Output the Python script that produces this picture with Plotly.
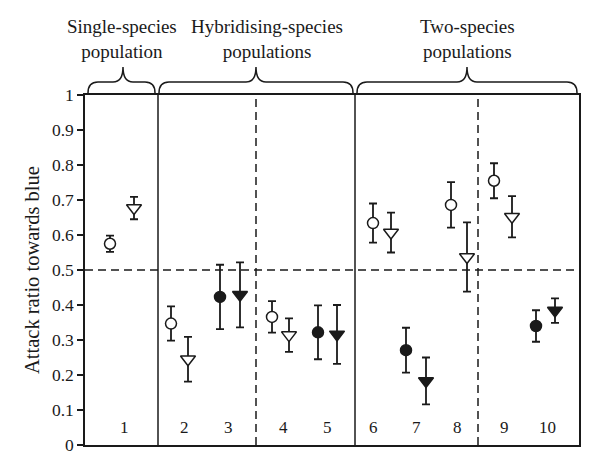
import plotly.graph_objects as go

# ---- data ----
groups = ["1", "2", "3", "4", "5", "6", "7", "8", "9", "10"]
group_x = [39, 99, 143, 198, 242, 288, 331, 372, 419, 462]
circle_x = [25, 86, 135, 187, 233, 288, 321, 366, 409, 451]
triangle_x = [49, 103, 155, 204, 252, 306, 341, 382, 427, 470]
circle_y = [0.575, 0.347, 0.423, 0.366, 0.322, 0.634, 0.271, 0.686, 0.755, 0.340]
circle_err = [0.023, 0.049, 0.092, 0.045, 0.077, 0.056, 0.064, 0.065, 0.050, 0.045]
triangle_y = [0.677, 0.245, 0.429, 0.314, 0.316, 0.607, 0.183, 0.537, 0.652, 0.384]
triangle_err = [0.032, 0.064, 0.093, 0.048, 0.084, 0.057, 0.067, 0.099, 0.059, 0.035]
filled = [False, False, True, False, True, False, True, False, False, True]
solid_separators = [73, 270]
dashed_separators = [171, 393]
headers = ["Single-species<br>population", "Hybridising-species<br>populations",
           "Two-species<br>populations"]
header_x = [37, 182, 382]
brace_spans = [(3, 70, 38), (74, 268, 171), (272, 492, 382)]

FONT = "Liberation Serif"
INK = "#1a1a1a"
XR = [0, 494]
# page body has an 8px margin; figure is sized so the plot lands where the reference has it
W, H = 592, 468
L, R, T, B = 77, 21, 87, 31
PW = W - L - R
PH = H - T - B

fig = go.Figure()


def add_series(xs, ys, es, symbol, fill, name):
    sel = [i for i in range(len(xs)) if filled[i] == fill]
    fig.add_trace(go.Scatter(
        x=[xs[i] for i in sel], y=[ys[i] for i in sel], mode="markers", name=name,
        marker=dict(symbol=symbol, size=13 if "triangle" in symbol else 11,
                    color=INK if fill else "white",
                    line=dict(color=INK, width=1.5)),
        error_y=dict(type="data", array=[es[i] for i in sel], visible=True,
                     color=INK, thickness=1.8, width=4),
        showlegend=False, cliponaxis=False,
    ))


add_series(circle_x, circle_y, circle_err, "circle", False, "open circle")
add_series(triangle_x, triangle_y, triangle_err, "triangle-down", False, "open triangle")
add_series(circle_x, circle_y, circle_err, "circle", True, "filled circle")
add_series(triangle_x, triangle_y, triangle_err, "triangle-down", True, "filled triangle")

shapes = []
for sx in solid_separators:
    shapes.append(dict(type="line", xref="x", yref="y", x0=sx, x1=sx, y0=0, y1=1,
                       line=dict(color=INK, width=1.5), layer="below"))
for sx in dashed_separators:
    shapes.append(dict(type="line", xref="x", yref="y", x0=sx, x1=sx, y0=0, y1=1,
                       line=dict(color=INK, width=1.5, dash="8px,5px"), layer="below"))
shapes.append(dict(type="line", xref="x", yref="y", x0=XR[0], x1=XR[1], y0=0.5, y1=0.5,
                   line=dict(color=INK, width=1.5, dash="8px,5px"), layer="below"))


def ppy(pix):
    # pixel offset above plot top -> paper y
    return 1 + pix / PH


def brace(x0, x1, xm):
    yb, yh, yp = ppy(2), ppy(13), ppy(28)
    r = 10
    return (f"M {x0},{yb} Q {x0},{yh} {x0 + r},{yh} L {xm - r},{yh} "
            f"Q {xm},{yh} {xm},{yp} Q {xm},{yh} {xm + r},{yh} "
            f"L {x1 - r},{yh} Q {x1},{yh} {x1},{yb}")


for (a, b, m) in brace_spans:
    shapes.append(dict(type="path", xref="x", yref="paper", path=brace(a, b, m),
                       line=dict(color=INK, width=1.5)))

annotations = []
for g, gx in zip(groups, group_x):
    annotations.append(dict(x=gx, y=0.05, xref="x", yref="y", text=g, showarrow=False,
                            font=dict(family=FONT, size=17, color=INK)))
for h, hx in zip(headers, header_x):
    annotations.append(dict(x=hx, y=ppy(31), xref="x", yref="paper", text=h,
                            showarrow=False, yanchor="bottom", align="center",
                            font=dict(family=FONT, size=19, color=INK)))
annotations.append(dict(x=-53 / PW, y=0.5, xref="paper", yref="paper",
                        xanchor="center", yanchor="middle",
                        text="Attack ratio towards blue", textangle=-90, showarrow=False,
                        font=dict(family=FONT, size=20.5, color=INK)))

fig.update_layout(
    width=W, height=H,
    margin=dict(l=L, r=R, t=T, b=B),
    paper_bgcolor="white", plot_bgcolor="white",
    shapes=shapes, annotations=annotations,
    xaxis=dict(range=XR, showgrid=False, zeroline=False, showticklabels=False,
               ticks="", showline=True, mirror=True, linecolor=INK, linewidth=1.5),
    yaxis=dict(range=[0, 1], dtick=0.1, tick0=0, showgrid=False, zeroline=False,
               ticks="outside", ticklen=6, tickwidth=1.5, tickcolor=INK,
               showline=True, mirror=True, linecolor=INK, linewidth=1.5,
               tickfont=dict(family=FONT, size=17.5, color=INK)),
)

fig.write_html("out.html")
